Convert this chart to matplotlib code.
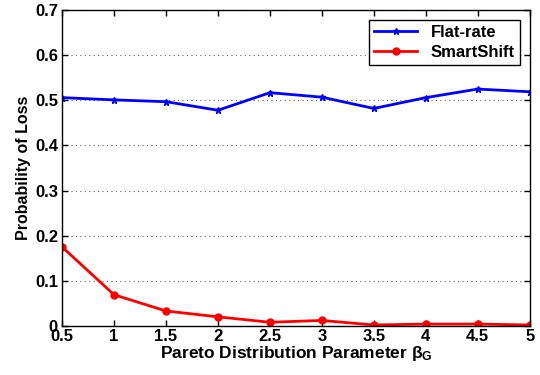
import numpy as np
import matplotlib.pyplot as plt

plt.rcParams['font.family'] = ['Liberation Sans', 'DejaVu Sans']
plt.rcParams['font.weight'] = 'bold'

beta = [0.5, 1, 1.5, 2, 2.5, 3, 3.5, 4, 4.5, 5]
flat_rate = [0.506, 0.501, 0.497, 0.478, 0.517, 0.507, 0.482, 0.506, 0.525, 0.519]
smartshift = [0.175, 0.069, 0.033, 0.020, 0.008, 0.012, 0.002, 0.004, 0.004, 0.002]

fig = plt.figure(figsize=(5.4, 3.75), dpi=100)
ax = fig.add_axes([0.115, 0.131, 0.866, 0.842])

ax.plot(beta, flat_rate, '-', color='blue', lw=2, marker='*', ms=5, label='Flat-rate')
ax.plot(beta, smartshift, '-', color='red', lw=2, marker='o', ms=5,
        mec='red', mfc='red', label='SmartShift')

ax.set_xlim(0.5, 5)
ax.set_ylim(0, 0.7)
ax.set_xticks(beta)
ax.set_xticklabels(['0.5', '1', '1.5', '2', '2.5', '3', '3.5', '4', '4.5', '5'])
ax.set_yticks(np.arange(0, 0.71, 0.1))
ax.set_yticklabels(['0', '0.1', '0.2', '0.3', '0.4', '0.5', '0.6', '0.7'])
ax.yaxis.grid(True, linestyle=(0, (1, 3)), color='0.4', lw=0.8)
ax.tick_params(direction='in', top=True, right=True, labelsize=12, length=4, width=1)
ax.tick_params(axis='x', pad=2)
ax.tick_params(axis='y', pad=3)
for s in ax.spines.values():
    s.set_linewidth(1)

ax.set_xlabel(r'Pareto Distribution Parameter $\mathregular{\beta_G}$', fontsize=12.5, fontweight='bold', labelpad=0.5)
ax.set_ylabel('Probability of Loss', fontsize=11.5, fontweight='bold', labelpad=3)

leg = ax.legend(loc='upper right', fontsize=12, fancybox=False, edgecolor='black',
                framealpha=1, borderaxespad=0.6, handlelength=2.6, borderpad=0.3,
                labelspacing=0.3)
leg.get_frame().set_linewidth(1)

plt.savefig('out.png', dpi=100)
